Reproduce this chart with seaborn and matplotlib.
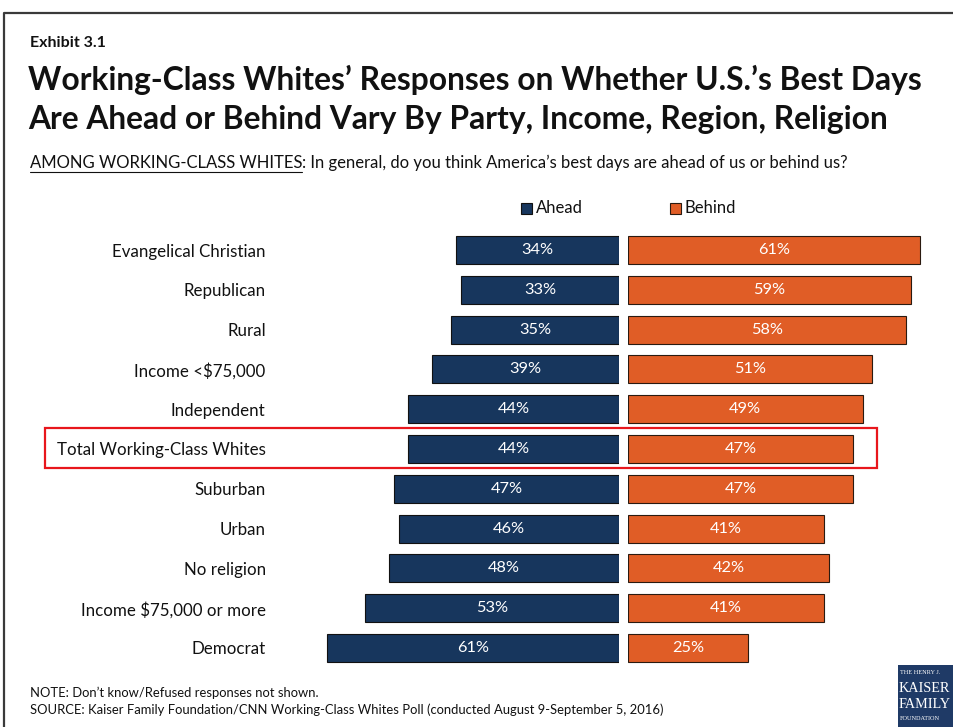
import matplotlib
matplotlib.use("Agg")
import matplotlib.pyplot as plt
from matplotlib.patches import Rectangle
from matplotlib.lines import Line2D
import seaborn as sns
import pandas as pd

# Survey results among working-class whites
categories = [
    "Evangelical Christian", "Republican", "Rural", "Income <$75,000",
    "Independent", "Total Working-Class Whites", "Suburban", "Urban",
    "No religion", "Income $75,000 or more", "Democrat",
]
ahead = [34, 33, 35, 39, 44, 44, 47, 46, 48, 53, 61]
behind = [61, 59, 58, 51, 49, 47, 47, 41, 42, 41, 25]
series_names = ["Ahead", "Behind"]

NAVY = "#17365D"
ORANGE = "#E05D26"
FONT = ["Lato", "DejaVu Sans"]

sns.set_theme(style="white")
plt.rcParams["font.family"] = FONT

W, H = 954, 727
fig = plt.figure(figsize=(W / 100, H / 100), dpi=100)
fig.patch.set_facecolor("white")

df = pd.DataFrame({"category": categories, "Ahead": ahead, "Behind": behind})

def px(x0, y0, w, h):
    """Convert a pixel box (top-left origin) into figure fractions."""
    return [x0 / W, 1 - (y0 + h) / H, w / W, h / H]

scale = 4.79            # pixels per percentage point
row_h = 39.8
top = 250 - row_h / 2
ax_h = row_h * len(categories)

ax_l = fig.add_axes(px(619 - 70 * scale, top, 70 * scale, ax_h))
ax_r = fig.add_axes(px(628, top, 68 * scale, ax_h))

sns.barplot(data=df, x="Ahead", y="category", color=NAVY, width=0.7,
            edgecolor="#111111", linewidth=0.8, saturation=1, ax=ax_l)
sns.barplot(data=df, x="Behind", y="category", color=ORANGE, width=0.7,
            edgecolor="#2a1a10", linewidth=0.8, saturation=1, ax=ax_r)

ax_l.set_xlim(70, 0)
ax_r.set_xlim(0, 68)
for ax in (ax_l, ax_r):
    ax.set_xlabel("")
    ax.set_ylabel("")
    ax.set_xticks([])
    for s in ax.spines.values():
        s.set_visible(False)
    ax.set_facecolor("none")
ax_r.set_yticks([])
ax_l.tick_params(axis="y", length=0, pad=13, labelsize=12.2, labelcolor="#111111")

for i, v in enumerate(ahead):
    ax_l.text(v / 2, i, f"{v}%", ha="center", va="center", color="white", fontsize=11.8)
for i, v in enumerate(behind):
    ax_r.text(v / 2, i, f"{v}%", ha="center", va="center", color="white", fontsize=11.8)

# Legend
fig.patches.append(Rectangle((521 / W, 1 - 214 / H), 11 / W, 11 / H, transform=fig.transFigure,
                             facecolor=NAVY, edgecolor="#111111", linewidth=0.8))
fig.text(536 / W, 1 - 208 / H, series_names[0], ha="left", va="center", fontsize=12, color="#111111")
fig.patches.append(Rectangle((670 / W, 1 - 214 / H), 11 / W, 11 / H, transform=fig.transFigure,
                             facecolor=ORANGE, edgecolor="#2a1a10", linewidth=0.8))
fig.text(685 / W, 1 - 208 / H, series_names[1], ha="left", va="center", fontsize=12, color="#111111")

# Highlight box around the total row
fig.patches.append(Rectangle((45 / W, 1 - 468 / H), 832 / W, 40 / H, transform=fig.transFigure,
                             facecolor="none", edgecolor="#E8161C", linewidth=1.6))

# Outer frame
fig.lines.append(Line2D([4 / W, 4 / W, 1], [0, 1 - 13 / H, 1 - 13 / H],
                        transform=fig.transFigure, color="#3a3a3a", linewidth=1.6))

# Headings
fig.text(30 / W, 1 - 43 / H, "Exhibit 3.1", ha="left", va="center", fontsize=11.5,
         fontweight="bold", color="#111111")
fig.text(28 / W, 1 - 80 / H, "Working-Class Whites\u2019 Responses on Whether U.S.\u2019s Best Days",
         ha="left", va="center", fontsize=22.9, fontweight="bold", color="#111111")
fig.text(28 / W, 1 - 120 / H, "Are Ahead or Behind Vary By Party, Income, Region, Religion",
         ha="left", va="center", fontsize=22.9, fontweight="bold", color="#111111")

t1 = fig.text(30 / W, 1 - 163 / H, "AMONG WORKING-CLASS WHITES", ha="left", va="center",
              fontsize=12, color="#111111")
fig.canvas.draw()
bb = t1.get_window_extent()
fig.lines.append(Line2D([bb.x0 / W, bb.x1 / W], [(bb.y0 - 1) / H, (bb.y0 - 1) / H],
                        transform=fig.transFigure, color="#111111", linewidth=0.8))
fig.text(bb.x1 / W, 1 - 163 / H,
         ": In general, do you think America\u2019s best days are ahead of us or behind us?",
         ha="left", va="center", fontsize=12, color="#111111")

# Notes
fig.text(30 / W, 1 - 693 / H, "NOTE: Don\u2019t know/Refused responses not shown.",
         ha="left", va="center", fontsize=9.4, color="#111111")
fig.text(30 / W, 1 - 710 / H,
         "SOURCE: Kaiser Family Foundation/CNN Working-Class Whites Poll (conducted August 9-September 5, 2016)",
         ha="left", va="center", fontsize=9.4, color="#111111")

# Foundation badge
fig.patches.append(Rectangle((898 / W, 0), 60 / W, 62 / H, transform=fig.transFigure,
                             facecolor="#1F3A66", edgecolor="none"))
serif = ["Liberation Serif", "DejaVu Serif"]
fig.text(900 / W, 1 - 673 / H, "THE HENRY J.", family=serif, fontsize=4.5, color="white", va="center")
fig.text(899 / W, 1 - 688 / H, "KAISER", family=serif, fontsize=10.2, color="white", va="center")
fig.text(899 / W, 1 - 704 / H, "FAMILY", family=serif, fontsize=10.2, color="white", va="center")
fig.text(900 / W, 1 - 719 / H, "FOUNDATION", family=serif, fontsize=4.5, color="white", va="center")

fig.savefig("out.png", dpi=100, facecolor="white")
